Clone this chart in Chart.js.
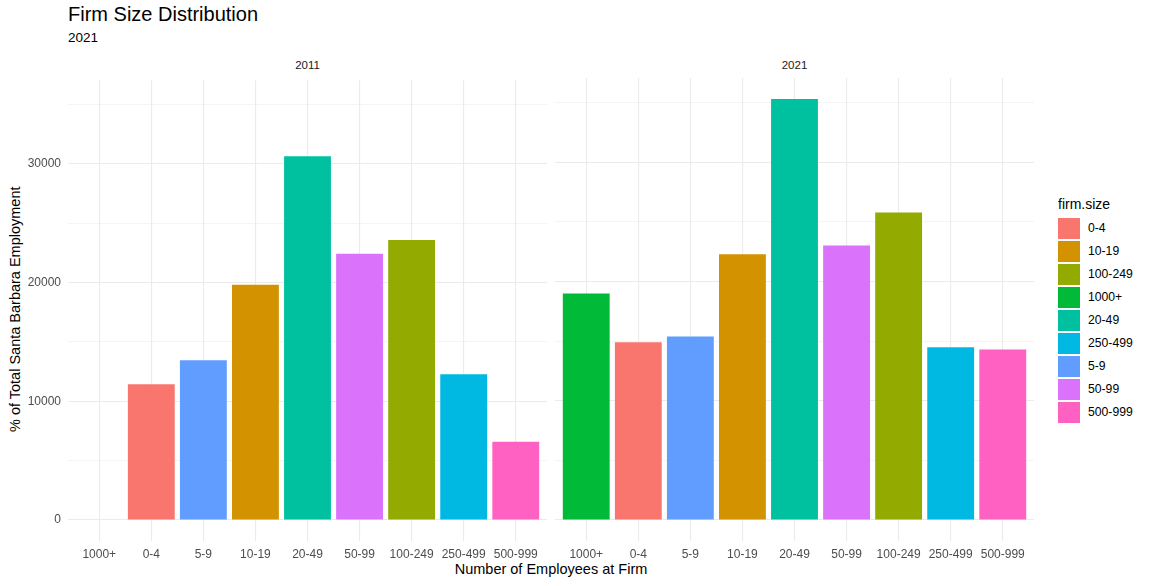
<!DOCTYPE html>
<html>
<head>
<meta charset="utf-8">
<script src="https://cdn.jsdelivr.net/npm/chart.js@4"></script>
<style>
  body { margin: 0; background: #fff; font-family: "Liberation Sans", Arial, sans-serif; }
  #wrap { position: relative; width: 1149px; height: 586px; overflow: hidden; }
  .txt { position: absolute; white-space: nowrap; color: #000; }
  canvas { position: absolute; }
</style>
</head>
<body>
<div id="wrap">
  <div class="txt" style="left:68px;top:4px;font-size:20px;line-height:20px;">Firm Size Distribution</div>
  <div class="txt" style="left:68px;top:31px;font-size:13.5px;line-height:13.5px;">2021</div>
  <div class="txt" style="left:68px;top:60px;width:479px;text-align:center;font-size:11.5px;line-height:11.5px;color:#1a1a1a;">2011</div>
  <div class="txt" style="left:555px;top:60px;width:479px;text-align:center;font-size:11.5px;line-height:11.5px;color:#1a1a1a;">2021</div>
  <div class="txt" style="left:-216px;top:302px;width:463px;height:14.5px;text-align:center;font-size:14.5px;line-height:14.5px;transform:rotate(-90deg);">% of Total Santa Barbara Employment</div>
  <div class="txt" style="left:68px;top:562px;width:966px;text-align:center;font-size:14.5px;line-height:14.5px;">Number of Employees at Firm</div>
  <div class="txt" style="left:1058px;top:197px;font-size:14px;line-height:14px;">firm.size</div>
  <div id="legend"></div>
  <canvas id="c2011" width="547" height="505" style="left:0px;top:66px;"></canvas>
  <canvas id="c2021" width="479" height="505" style="left:555px;top:66px;"></canvas>
</div>
<script>
// x order used by the plot
const sizes = ["1000+", "0-4", "5-9", "10-19", "20-49", "50-99", "100-249", "250-499", "500-999"];
// legend order (alphabetical, as ggplot sorts the factor)
const legendOrder = ["0-4", "10-19", "100-249", "1000+", "20-49", "250-499", "5-9", "50-99", "500-999"];
const palette = ["#F8766D", "#D39200", "#93AA00", "#00BA38", "#00C19F", "#00B9E3", "#619CFF", "#DB72FB", "#FF61C3"];

const emp2011 = [null, 11450, 13460, 19830, 30640, 22430, 23600, 12290, 6590];
const emp2021 = [18990, 14890, 15390, 22270, 35290, 23020, 25780, 14470, 14300];

const yTicks = [0, 5000, 10000, 15000, 20000, 25000, 30000, 35000];
const yMin = -1765, yMax = 37055;

const FONT = "'Liberation Sans', Arial, sans-serif";
const colorOf = s => palette[legendOrder.indexOf(s)];

// legend
const leg = document.getElementById("legend");
legendOrder.forEach((s, i) => {
    const top = 218 + i * 23;
    leg.insertAdjacentHTML("beforeend",
        `<div style="position:absolute;left:1058px;top:${top}px;width:22px;height:21px;background:${palette[i]}"></div>` +
        `<div class="txt" style="left:1088px;top:${top}px;height:21px;line-height:21px;font-size:12.2px;">${s}</div>`);
});

function makeChart(id, values, showY) {
    const ctx = document.getElementById(id).getContext("2d");
    return new Chart(ctx, {
        type: 'bar',
        data: {
            datasets: [{
                data: values.map((v, i) => ({ x: i, y: v })),
                backgroundColor: sizes.map(colorOf),
                borderWidth: 0,
                barPercentage: 1,
                categoryPercentage: 0.9
            }]
        },
        options: {
            responsive: false,
            animation: false,
            events: [],
            layout: { padding: { top: 12, left: 0, right: 0, bottom: 0 } },
            plugins: {
                legend: { display: false },
                tooltip: { enabled: false }
            },
            scales: {
                x: {
                    type: 'linear',
                    offset: false,
                    min: -0.6,
                    max: sizes.length - 1 + 0.6,
                    afterBuildTicks: s => { s.ticks = sizes.map((c, i) => ({ value: i })); },
                    afterFit: s => { s.height = 30; },
                    border: { display: false },
                    grid: { offset: false, color: '#ebebeb', lineWidth: 1.1, drawTicks: false },
                    ticks: {
                        padding: 6,
                        color: '#4d4d4d',
                        font: { family: FONT, size: 12 },
                        maxRotation: 0,
                        autoSkip: false,
                        callback: v => sizes[v]
                    }
                },
                y: {
                    min: yMin,
                    max: yMax,
                    afterBuildTicks: s => { s.ticks = yTicks.map(v => ({ value: v })); },
                    afterFit: s => { s.width = showY ? 68 : 0; },
                    border: { display: false },
                    grid: {
                        drawTicks: false,
                        color: '#ebebeb',
                        lineWidth: c => (c.tick && c.tick.value % 10000 === 0) ? 1.1 : 0.55
                    },
                    ticks: {
                        display: showY,
                        padding: 7,
                        color: '#4d4d4d',
                        font: { family: FONT, size: 12 },
                        callback: v => (v % 10000 === 0 ? String(v) : '')
                    }
                }
            }
        }
    });
}

makeChart("c2011", emp2011, true);
makeChart("c2021", emp2021, false);
</script>
</body>
</html>
